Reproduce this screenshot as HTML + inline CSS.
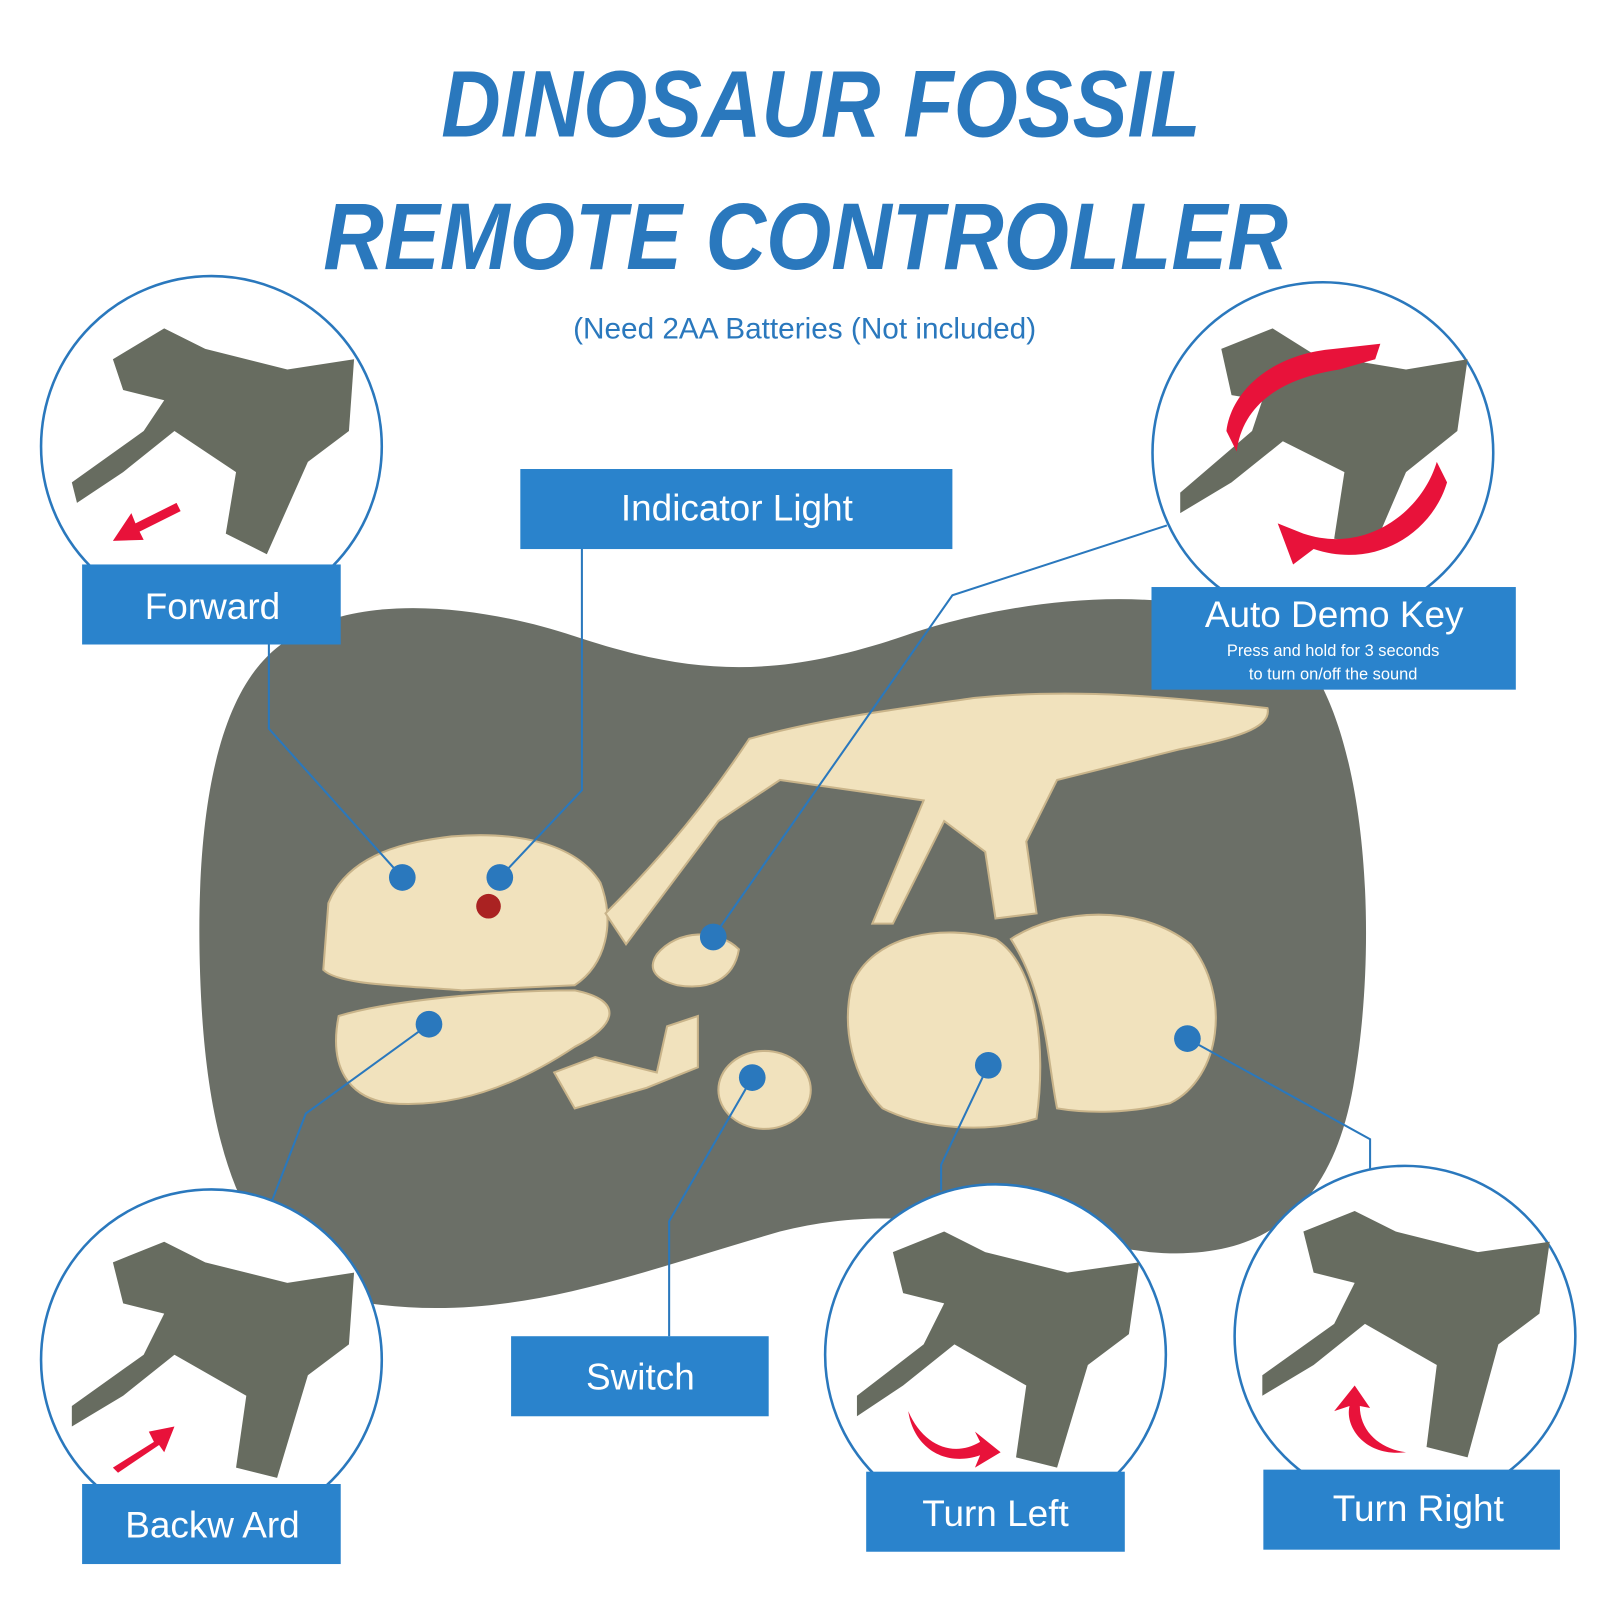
<!DOCTYPE html>
<html><head><meta charset="utf-8"><style>
html,body{margin:0;padding:0;background:#fff;}
svg{display:block;}
.t{font-family:"Liberation Sans",sans-serif;fill:#fff;}
</style></head><body>
<svg width="1601" height="1601" viewBox="0 0 1560 1560" xmlns="http://www.w3.org/2000/svg">
<rect width="1560" height="1560" fill="#fff"/>
<g font-family="Liberation Sans,sans-serif" font-weight="900" font-style="italic" fill="#2a78bd" text-anchor="middle">
<text x="800" y="133" font-size="92" textLength="740" lengthAdjust="spacingAndGlyphs">DINOSAUR FOSSIL</text>
<text x="785" y="262" font-size="92" textLength="940" lengthAdjust="spacingAndGlyphs">REMOTE CONTROLLER</text>
</g>
<text x="784" y="330" font-family="Liberation Sans,sans-serif" font-size="29" fill="#2a78bd" text-anchor="middle">(Need 2AA Batteries (Not included)</text>

<path d="M260 640 C330 570 470 590 560 620 C680 660 760 660 880 620 C980 585 1150 560 1250 620 C1330 680 1345 900 1320 1050 C1300 1180 1230 1230 1120 1220 C960 1200 880 1170 760 1200 C620 1240 500 1290 360 1270 C230 1250 200 1100 195 950 C190 800 210 690 260 640 Z" fill="#6b6f67"/>
<g fill="#f1e2bd" stroke="#c9b48a" stroke-width="2">
<path d="M320 880 C340 830 400 820 440 815 C500 810 560 820 585 860 C600 900 590 940 560 960 L450 965 C390 960 330 960 315 945 Z"/>
<path d="M330 990 C380 975 480 965 560 965 C610 975 600 1000 560 1020 C500 1060 440 1080 380 1075 C340 1070 320 1040 330 990 Z"/>
<path d="M590 890 C650 830 690 780 730 720 C800 700 880 690 950 680 C1050 670 1150 680 1235 690 C1240 710 1200 720 1150 730 L1030 760 L1000 820 L1010 890 L970 895 L960 830 L920 800 L870 900 L850 900 L900 780 L760 760 L700 800 L610 920 Z"/>
<path d="M640 930 C660 905 700 905 720 925 C715 955 690 965 660 960 C640 955 630 945 640 930 Z"/>
<path d="M540 1045 L580 1030 L640 1045 L650 1000 L680 990 L680 1040 L630 1060 L560 1080 Z"/>
<ellipse cx="745" cy="1062" rx="45" ry="38"/>
<path d="M830 960 C850 910 920 900 970 915 C1010 940 1020 1020 1010 1090 C960 1105 900 1100 860 1080 C830 1050 820 1000 830 960 Z"/>
<path d="M985 915 C1030 885 1110 880 1160 920 C1200 970 1190 1050 1140 1075 C1100 1085 1060 1085 1030 1080 C1020 1030 1020 970 985 915 Z"/>
</g>
<g fill="none" stroke="#2a78bd" stroke-width="2">
<path d="M262 625 L262 710 L392 855"/>
<path d="M567 535 L567 770 L487 855"/>
<path d="M1137 512 L928 580 L695 913"/>
<path d="M418 998 L298 1085 L265 1170"/>
<path d="M733 1050 L652 1190 L652 1302"/>
<path d="M963 1038 L917 1135 L917 1160"/>
<path d="M1157 1012 L1335 1110 L1335 1140"/>
</g>
<circle cx="476" cy="883" r="12" fill="#a22"/>
<g fill="#2a78bd"><circle cx="392" cy="855" r="13"/><circle cx="487" cy="855" r="13"/><circle cx="695" cy="913" r="13"/><circle cx="418" cy="998" r="13"/><circle cx="733" cy="1050" r="13"/><circle cx="963" cy="1038" r="13"/><circle cx="1157" cy="1012" r="13"/></g>

<g fill="#fff" stroke="#2a78bd" stroke-width="2.5">
<circle cx="206" cy="435" r="166"/>
<circle cx="1289" cy="441" r="166"/>
<circle cx="206" cy="1325" r="166"/>
<circle cx="970" cy="1320" r="166"/>
<circle cx="1369" cy="1302" r="166"/>
</g>
<g fill="#676c60">
<path d="M110 350 L160 320 L200 340 L280 360 L345 350 L340 420 L300 450 L260 540 L220 520 L230 460 L170 420 L120 460 L75 490 L70 470 L140 420 L160 390 L120 380 Z"/>
<path d="M1190 340 L1240 320 L1280 345 L1370 360 L1430 350 L1420 420 L1370 460 L1340 530 L1300 525 L1310 460 L1250 430 L1200 470 L1150 500 L1150 480 L1220 420 L1230 390 L1200 385 Z"/>
<path d="M110 1230 L160 1210 L200 1230 L280 1250 L345 1240 L340 1310 L300 1340 L270 1440 L230 1430 L240 1360 L170 1320 L120 1360 L70 1390 L70 1370 L140 1320 L160 1280 L120 1270 Z"/>
<path d="M870 1220 L920 1200 L960 1220 L1040 1240 L1110 1230 L1100 1300 L1060 1330 L1030 1430 L990 1420 L1000 1350 L930 1310 L880 1350 L835 1380 L835 1360 L900 1310 L920 1270 L880 1260 Z"/>
<path d="M1270 1200 L1320 1180 L1360 1200 L1440 1220 L1510 1210 L1500 1280 L1460 1310 L1430 1420 L1390 1410 L1400 1330 L1330 1290 L1280 1330 L1230 1360 L1230 1340 L1300 1290 L1320 1250 L1280 1240 Z"/>
</g>
<g fill="#e8123a">
<path d="M110 527 L128 500 L132 510 L172 490 L176 498 L136 518 L140 526 Z"/>
<path d="M110 1430 L150 1405 L145 1395 L170 1390 L160 1415 L155 1408 L115 1435 Z"/>
<path d="M885 1375 C900 1410 930 1420 955 1405 L950 1395 L975 1415 L950 1430 L955 1418 C920 1430 890 1410 885 1375 Z"/>
<path d="M1370 1415 C1330 1420 1310 1390 1315 1370 L1300 1375 L1320 1350 L1335 1372 L1325 1370 C1325 1395 1345 1412 1370 1415 Z"/>
<path d="M1195 420 C1200 380 1240 345 1300 340 L1345 335 L1340 350 L1305 360 C1240 370 1210 400 1205 440 Z"/>
<path d="M1260 550 L1245 510 L1270 520 C1330 540 1385 500 1400 450 L1410 470 C1395 520 1340 555 1280 535 Z"/>
</g>

<g fill="#2a83cc">
<rect x="80" y="550" width="252" height="78"/>
<rect x="507" y="457" width="421" height="78"/>
<rect x="1122" y="572" width="355" height="100"/>
<rect x="80" y="1446" width="252" height="78"/>
<rect x="498" y="1302" width="251" height="78"/>
<rect x="844" y="1434" width="252" height="78"/>
<rect x="1231" y="1432" width="289" height="78"/>
</g>
<g class="t" font-size="36" text-anchor="middle" fill="#fff" font-family="Liberation Sans,sans-serif">
<text x="207" y="603">Forward</text>
<text x="718" y="507">Indicator Light</text>
<text x="1300" y="611">Auto Demo Key</text>
<text x="207" y="1498">Backw Ard</text>
<text x="624" y="1354">Switch</text>
<text x="970" y="1487">Turn Left</text>
<text x="1382" y="1482">Turn Right</text>
<text x="1299" y="639" font-size="16">Press and hold for 3 seconds</text>
<text x="1299" y="662" font-size="16">to turn on/off the sound</text>
</g>
</svg>
</body></html>
